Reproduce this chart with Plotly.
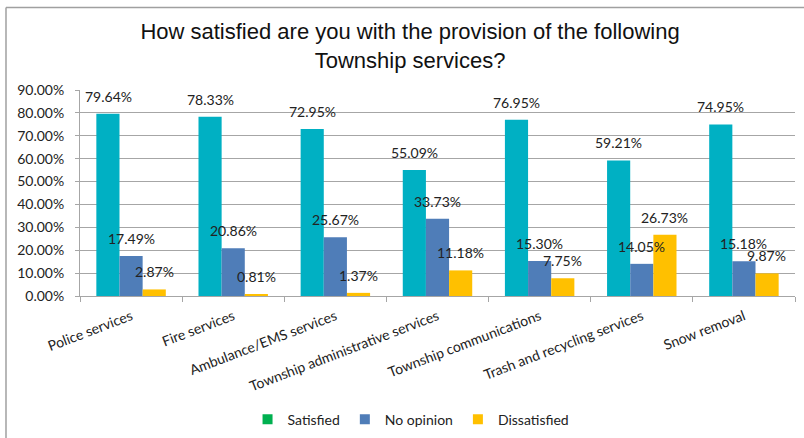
import plotly.graph_objects as go

categories = [
    "Police services",
    "Fire services",
    "Ambulance/EMS services",
    "Township administrative services",
    "Township communications",
    "Trash and recycling services",
    "Snow removal",
]
satisfied = [79.64, 78.33, 72.95, 55.09, 76.95, 59.21, 74.95]
no_opinion = [17.49, 20.86, 25.67, 33.73, 15.30, 14.05, 15.18]
dissatisfied = [2.87, 0.81, 1.37, 11.18, 7.75, 26.73, 9.87]

series = [
    ("Satisfied", satisfied, "#00B0C3", "#00B050"),
    ("No opinion", no_opinion, "#4F7DB8", "#4F7DB8"),
    ("Dissatisfied", dissatisfied, "#FFC000", "#FFC000"),
]

label_font = dict(family="Lato, Open Sans, sans-serif", size=14, color="#222222")
grid = "#A6A6A6"

fig = go.Figure()

# bars (legend entries are drawn separately below)
for name, vals, color, _ in series:
    fig.add_trace(go.Bar(
        name=name, x=categories, y=[v / 100 for v in vals],
        marker=dict(color=color, line=dict(width=0)),
        showlegend=False,
    ))

# legend swatches
for name, _, _, lcolor in series:
    fig.add_trace(go.Scatter(
        name=name, x=[None], y=[None], mode="markers",
        marker=dict(symbol="square", size=10, color=lcolor),
        showlegend=True,
    ))

# value labels above each bar
bar_px = 23
for i, (name, vals, _, _) in enumerate(series):
    for cat, v in zip(categories, vals):
        fig.add_annotation(
            x=cat, y=v / 100, xref="x", yref="y",
            text=f"{v:.2f}%", showarrow=False,
            xanchor="center", yanchor="bottom",
            xshift=(i - 1) * bar_px, yshift=7,
            font=label_font,
        )

# chart frame (top and left edges)
fig.add_shape(type="line", xref="paper", yref="paper",
              x0=-0.1035, x1=1.02, y0=1.4, y1=1.4,
              line=dict(color="#A0A0A0", width=1.5))
fig.add_shape(type="line", xref="paper", yref="paper",
              x0=-0.1035, x1=-0.1035, y0=1.4, y1=-0.7,
              line=dict(color="#A0A0A0", width=1.5))

fig.update_layout(
    width=804, height=438,
    margin=dict(l=80, r=9, t=90, b=142, autoexpand=False),
    paper_bgcolor="white", plot_bgcolor="white",
    barmode="group", bargap=0.32, bargroupgap=0,
    title=dict(
        text="How satisfied are you with the provision of the following<br>Township services?",
        x=0.51, xanchor="center", y=0.91, yanchor="top",
        font=dict(family="Liberation Sans, Arial, sans-serif", size=22, color="#111111"),
    ),
    legend=dict(
        orientation="h", x=0.463, xanchor="center", y=-0.6, yanchor="middle",
        font=dict(family="Lato, Open Sans, sans-serif", size=14, color="#222222"),
        itemwidth=30, traceorder="normal",
    ),
    xaxis=dict(
        type="category", tickangle=-21, automargin=False,
        showline=True, linecolor=grid, linewidth=1,
        ticks="outside", tickson="boundaries", ticklen=5, tickcolor=grid,
        ticklabelstandoff=6,
        tickfont=dict(family="Lato, Open Sans, sans-serif", size=14, color="#222222"),
        showgrid=False,
    ),
    yaxis=dict(
        range=[0, 0.9], dtick=0.1, tickformat=".2%", automargin=False,
        showline=True, linecolor=grid, linewidth=1,
        ticks="outside", ticklen=4, tickcolor=grid,
        ticklabelstandoff=8,
        showgrid=True, gridcolor=grid, gridwidth=1,
        tickfont=dict(family="Lato, Open Sans, sans-serif", size=14, color="#222222"),
        zeroline=False,
    ),
)

fig.write_html("out.html")
